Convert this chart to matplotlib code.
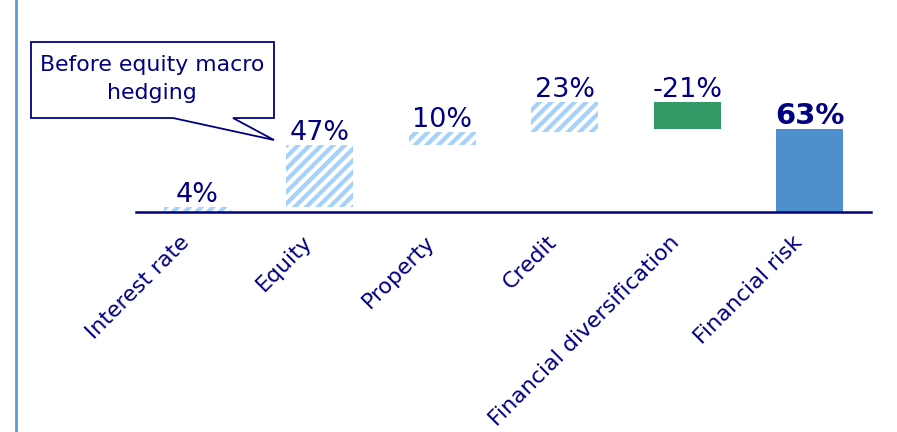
import matplotlib
matplotlib.use('Agg')
import matplotlib.pyplot as plt
from matplotlib.patches import Polygon
from matplotlib.lines import Line2D
import matplotlib.transforms as mtransforms

categories = ["Interest rate", "Equity", "Property", "Credit",
              "Financial diversification", "Financial risk"]
values = [4, 47, 10, 23, -21, 63]
value_labels = ["4%", "47%", "10%", "23%", "-21%", "63%"]
callout_text = "Before equity macro\nhedging"

DPI = 140
W, H = 897, 432


def pt(px):
    return px * 72 / DPI


NAVY = '#000080'
HATCH = '#A6D2FA'
GREEN = '#339966'
BLUE = '#4D90CC'
LEFTLINE = '#5B9BD5'

plt.rcParams['font.family'] = ['DejaVu Sans']
plt.rcParams['hatch.linewidth'] = pt(4.2)

fig = plt.figure(figsize=(W / DPI, H / DPI), dpi=DPI)
ax = fig.add_axes([136 / W, 1 - 212 / H, (871 - 136) / W, 212 / H])

# waterfall geometry
bottoms, heights = [], []
cum = 0
n = len(values)
for i, v in enumerate(values):
    if i == n - 1:
        bottoms.append(0)
        heights.append(v)
    else:
        if v >= 0:
            bottoms.append(cum)
            heights.append(v)
        else:
            bottoms.append(cum + v)
            heights.append(-v)
        cum += v

x = list(range(n))
for i in range(n):
    if i < 4:
        ax.bar(x[i], heights[i], bottom=bottoms[i], width=0.55,
               facecolor='white', edgecolor=HATCH, linewidth=0, hatch='////')
    elif i == 4:
        ax.bar(x[i], heights[i], bottom=bottoms[i], width=0.55,
               color=GREEN, linewidth=0)
    else:
        ax.bar(x[i], heights[i], bottom=bottoms[i], width=0.55,
               color=BLUE, linewidth=0)

for i in range(n):
    top = bottoms[i] + heights[i]
    bold = (i == n - 1)
    ax.annotate(value_labels[i], (x[i], top), xytext=(0, pt(5)),
                textcoords='offset points', ha='center', va='baseline',
                fontsize=pt(29) if bold else pt(27),
                fontweight='bold' if bold else 'normal', color=NAVY)

ax.set_xlim(-0.5, 5.5)
ax.set_ylim(0, 212 / 1.31)
for s in ['left', 'right', 'top']:
    ax.spines[s].set_visible(False)
ax.spines['bottom'].set_color(NAVY)
ax.spines['bottom'].set_linewidth(pt(2.5))
ax.set_yticks([])
ax.set_xticks(x)
ax.set_xticklabels(categories, rotation=45, ha='right', va='top',
                   rotation_mode='anchor', fontsize=pt(22), color=NAVY)
ax.tick_params(axis='x', length=0, pad=pt(20))
off = mtransforms.ScaledTranslation(-pt(18) / 72, 0, fig.dpi_scale_trans)
for lbl in ax.get_xticklabels():
    lbl.set_transform(lbl.get_transform() + off)
ax.patch.set_visible(False)

# left vertical rule
fig.add_artist(Line2D([16 / W, 16 / W], [0, 1], transform=fig.transFigure,
                      color=LEFTLINE, lw=pt(2.8)))

# callout box
pts_px = [(31, 42), (274, 42), (274, 118), (233, 118), (274, 140),
          (173, 118), (31, 118)]
poly = Polygon([(px / W, 1 - py / H) for px, py in pts_px], closed=True,
               transform=fig.transFigure, facecolor='white', edgecolor=NAVY,
               lw=pt(1.8), zorder=5)
fig.add_artist(poly)
fig.text(152 / W, 1 - 79 / H, callout_text, ha='center', va='center',
         fontsize=pt(22), color=NAVY, linespacing=1.5, zorder=6)

fig.savefig('out.png', dpi=DPI)
